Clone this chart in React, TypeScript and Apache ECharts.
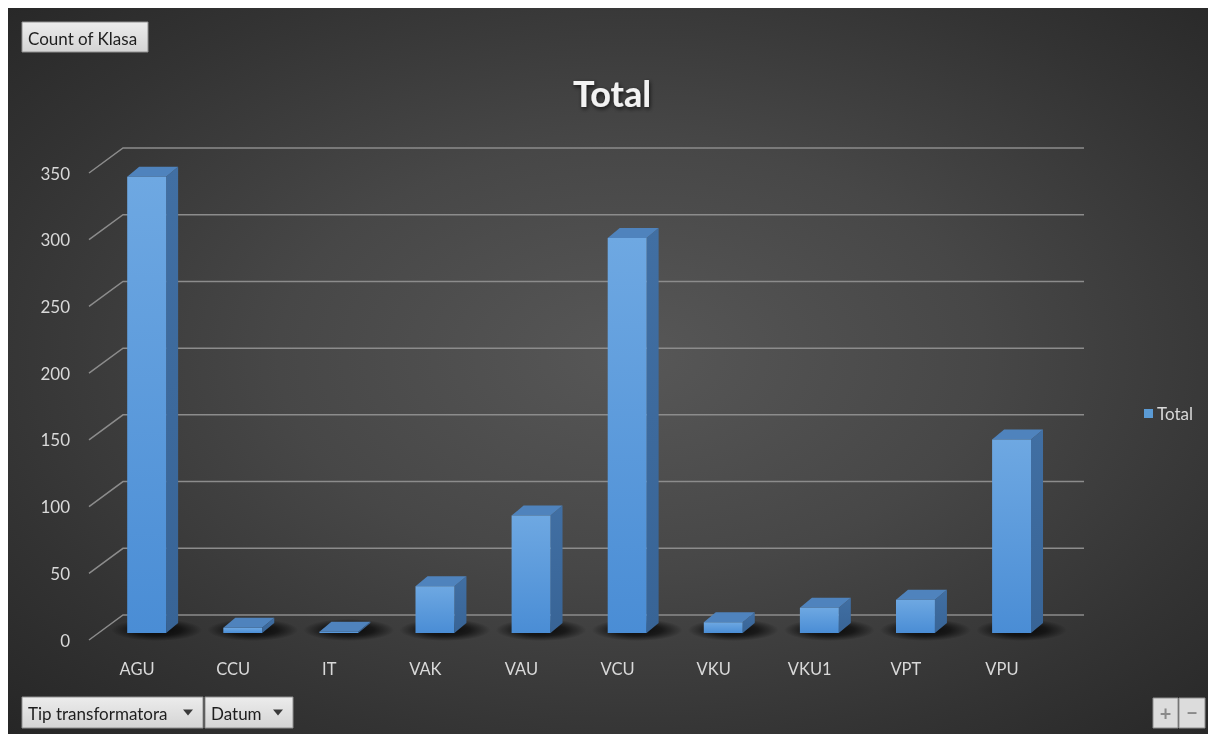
import React, { useEffect, useRef } from "react";
import * as echarts from "echarts";

const categories = ["AGU", "CCU", "IT", "VAK", "VAU", "VCU", "VKU", "VKU1", "VPT", "VPU"];
const totals = [342, 4, 1, 35, 88, 296, 8, 19, 25, 145];
const yTicks = [0, 50, 100, 150, 200, 250, 300, 350];
const seriesName = "Total";
const titleText = "Total";
const fieldButton = "Count of Klasa";
const axisButtons = ["Tip transformatora", "Datum"];

const DX = 34; // wall depth offset x
const DY = 25; // wall depth offset y
const FONT = "Lato, 'Open Sans', sans-serif";

export default function App() {
  const ref = useRef<HTMLDivElement>(null);

  useEffect(() => {
    if (!ref.current) return;
    const chart = echarts.init(ref.current, null, { renderer: "svg" });

    const button = (x: number, y: number, w: number, h: number, label: string, arrow: boolean) => {
      const children: any[] = [
        {
          type: "rect",
          shape: { x, y, width: w, height: h },
          style: {
            fill: new echarts.graphic.LinearGradient(0, 0, 0, 1, [
              { offset: 0, color: "#ececec" },
              { offset: 1, color: "#d4d4d4" },
            ]),
            stroke: "#8f8f8f",
            lineWidth: 1,
          },
        },
        {
          type: "text",
          style: {
            x: x + 6,
            y: y + h / 2 + 1,
            text: label,
            fill: "#1e1e1e",
            font: `17px ${FONT}`,
            verticalAlign: "middle",
            align: "left",
          },
        },
      ];
      if (arrow) {
        children.push({
          type: "polygon",
          shape: {
            points: [
              [x + w - 20, y + h / 2 - 3],
              [x + w - 10, y + h / 2 - 3],
              [x + w - 15, y + h / 2 + 3],
            ],
          },
          style: { fill: "#3a3a3a" },
        });
      }
      return { type: "group", children };
    };

    const option: any = {
      animation: false,
      backgroundColor: "transparent",
      title: {
        text: titleText,
        left: 599,
        top: 62,
        textAlign: "center",
        textStyle: {
          color: "#f2f2f2",
          fontSize: 36,
          fontWeight: "bold",
          fontFamily: FONT,
          textShadowColor: "rgba(0,0,0,0.7)",
          textShadowBlur: 4,
          textShadowOffsetX: 1,
          textShadowOffsetY: 2,
        },
      },
      legend: {
        data: [seriesName],
        left: 1131,
        top: 392,
        icon: "rect",
        itemWidth: 9,
        itemHeight: 9,
        itemGap: 5,
        textStyle: { color: "#d9d9d9", fontSize: 17, fontFamily: FONT, padding: [0, 0, 0, -1] },
      },
      grid: { left: 81, right: 158, top: 165, bottom: 94, containLabel: false },
      xAxis: {
        type: "category",
        data: categories,
        axisLine: { show: false },
        axisTick: { show: false },
        axisLabel: { color: "#d9d9d9", fontSize: 16.5, fontFamily: FONT, margin: 20 },
        splitLine: { show: false },
      },
      yAxis: {
        type: "value",
        min: 0,
        max: 350,
        interval: 50,
        axisLine: { show: false },
        axisTick: { show: false },
        splitLine: { show: false },
        axisLabel: { color: "#d9d9d9", fontSize: 17, fontFamily: FONT, margin: 19 },
      },
      series: [
        {
          type: "custom",
          name: "grid",
          z: 1,
          silent: true,
          data: yTicks.map((v) => [0, v]),
          renderItem: (params: any, api: any) => {
            const cs = params.coordSys;
            const y = api.coord([0, api.value(1)])[1];
            const x0 = cs.x;
            return {
              type: "polyline",
              shape: {
                points: [
                  [x0, y],
                  [x0 + DX, y - DY],
                  [x0 + cs.width + DX, y - DY],
                ],
              },
              style: { stroke: "#8c8c8c", lineWidth: 1.5, fill: null },
            };
          },
        },
        {
          type: "custom",
          name: seriesName,
          z: 2,
          itemStyle: { color: "#5b9bd5" },
          data: totals.map((v, i) => [i, v]),
          renderItem: (params: any, api: any) => {
            const idx = api.value(0);
            const v = api.value(1);
            const base = api.coord([idx, 0]);
            const top = api.coord([idx, v]);
            const band = api.size([1, 0])[0];
            const w = band * 0.405;
            const cx = base[0] + band * 0.1;
            const x1 = cx - w / 2;
            const x2 = cx + w / 2;
            const yb = base[1] - 7;
            const yt = Math.min(top[1] - 7, yb - 1);
            const dx = 12;
            const dy = 10;
            const shadowGrad = new echarts.graphic.RadialGradient(0.5, 0.5, 0.5, [
              { offset: 0, color: "rgba(0,0,0,0.85)" },
              { offset: 0.55, color: "rgba(0,0,0,0.6)" },
              { offset: 1, color: "rgba(0,0,0,0)" },
            ]);
            return {
              type: "group",
              children: [
                {
                  type: "ellipse",
                  shape: {
                    cx: (x1 + x2 + dx) / 2 + 4,
                    cy: yb - dy / 2 + 2,
                    rx: w / 2 + dx / 2 + 20,
                    ry: 11,
                  },
                  style: { fill: shadowGrad },
                },
                {
                  type: "polygon",
                  shape: {
                    points: [
                      [x2, yt],
                      [x2 + dx, yt - dy],
                      [x2 + dx, yb - dy],
                      [x2, yb],
                    ],
                  },
                  style: {
                    fill: new echarts.graphic.LinearGradient(0, 0, 0, 1, [
                      { offset: 0, color: "#416fa3" },
                      { offset: 1, color: "#386496" },
                    ]),
                  },
                },
                {
                  type: "polygon",
                  shape: {
                    points: [
                      [x1, yt],
                      [x2, yt],
                      [x2 + dx, yt - dy],
                      [x1 + dx, yt - dy],
                    ],
                  },
                  style: { fill: "#4f83bd" },
                },
                {
                  type: "rect",
                  shape: { x: x1, y: yt, width: w, height: yb - yt },
                  style: {
                    fill: new echarts.graphic.LinearGradient(0, 0, 0, 1, [
                      { offset: 0, color: "#6ea8e2" },
                      { offset: 1, color: "#4a8dd5" },
                    ]),
                  },
                },
              ],
            };
          },
        },
      ],
      graphic: [
        button(14, 14, 126, 30, fieldButton, false),
        button(14, 689, 181, 31, axisButtons[0], true),
        button(197, 689, 88, 31, axisButtons[1], true),
        {
          type: "group",
          children: [
            {
              type: "rect",
              shape: { x: 1145, y: 690, width: 25, height: 30 },
              style: { fill: "#dcdcdc", stroke: "#8f8f8f", lineWidth: 1 },
            },
            {
              type: "rect",
              shape: { x: 1171, y: 690, width: 26, height: 30 },
              style: { fill: "#dcdcdc", stroke: "#8f8f8f", lineWidth: 1 },
            },
            {
              type: "text",
              style: {
                x: 1157.5,
                y: 705,
                text: "+",
                fill: "#8a8a8a",
                font: `bold 20px ${FONT}`,
                align: "center",
                verticalAlign: "middle",
              },
            },
            {
              type: "text",
              style: {
                x: 1184,
                y: 704,
                text: "−",
                fill: "#8a8a8a",
                font: `bold 20px ${FONT}`,
                align: "center",
                verticalAlign: "middle",
              },
            },
          ],
        },
      ],
    };

    chart.setOption(option);
    return () => chart.dispose();
  }, []);

  return (
    <div
      ref={ref}
      style={{
        position: "fixed",
        left: 8,
        top: 8,
        width: 1200,
        height: 726,
        background:
          "radial-gradient(ellipse at 52% 48%, #575757 0%, #474747 40%, #333333 75%, #262626 100%)",
      }}
    />
  );
}
